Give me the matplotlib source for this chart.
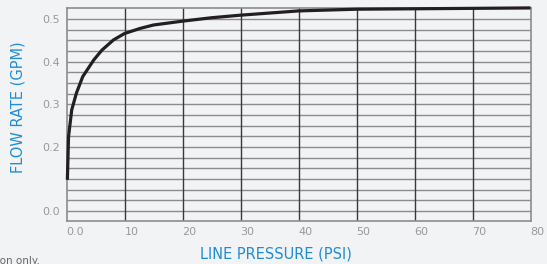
import matplotlib
matplotlib.use("Agg")
import matplotlib.pyplot as plt
import numpy as np

pressure = [0.15, 0.35, 0.9, 1.7, 2.8, 4.7, 6.1, 8.1, 10, 12.7, 15, 20, 25, 30, 40, 50, 60, 70, 80]
flow = [0.123, 0.224, 0.287, 0.326, 0.365, 0.404, 0.427, 0.451, 0.466, 0.478, 0.486,
        0.495, 0.503, 0.509, 0.519, 0.523, 0.524, 0.525, 0.526]

x_ticks = [0, 10, 20, 30, 40, 50, 60, 70, 80]
x_tick_labels = ["0.0", "10", "20", "30", "40", "50", "60", "70", "80"]
y_ticks = [0.05, 0.2, 0.3, 0.4, 0.5]
y_tick_labels = ["0.0", "0.2", "0.3", "0.4", "0.5"]
y_grid = [0.05 + 0.025 * i for i in range(19)]

BG = "#f2f3f5"
BLUE = "#1f8dd6"
GREY = "#999999"

fig = plt.figure(figsize=(5.47, 2.64), dpi=100, facecolor=BG)
ax = fig.add_axes([66.5 / 547, 1 - 220.7 / 264, 464 / 547, 213.2 / 264])
ax.set_facecolor(BG)
ax.set_xlim(0, 80)
ax.set_ylim(0.0273, 0.527)

for yv in y_grid:
    ax.axhline(yv, color="#8c8c8c", lw=1.0, zorder=1)
for xv in x_ticks[1:-1]:
    ax.axvline(xv, color="#3a3a3a", lw=1.0, zorder=2)

for s in ax.spines.values():
    s.set_color("#8c8c8c")
    s.set_linewidth(1.2)

ax.plot(pressure, flow, color="#231f20", lw=2.3, zorder=3, solid_capstyle="butt",
        clip_on=False)

ax.set_xticks(x_ticks)
ax.set_xticklabels(x_tick_labels)
ax.set_yticks(y_ticks)
ax.set_yticklabels(y_tick_labels)
ax.tick_params(axis="both", length=0, labelsize=8, labelcolor=GREY)
ax.tick_params(axis="y", pad=5)
ax.tick_params(axis="x", pad=4.5)
for t in ax.get_xticklabels():
    t.set_horizontalalignment("left")

ax.set_ylabel("FLOW RATE (GPM)", color=BLUE, fontsize=10.5)
ax.yaxis.set_label_coords(-0.0894, 0.533)
ax.set_xlabel("LINE PRESSURE (PSI)", color=BLUE, fontsize=10.5)
ax.xaxis.set_label_coords(0.4515, -0.122)

fig.text(40 / 547, 1 - 261 / 264, "For illustration only.", ha="right", va="center",
         fontsize=7.5, color="#666666")

fig.savefig("out.png", dpi=100, facecolor=BG)
